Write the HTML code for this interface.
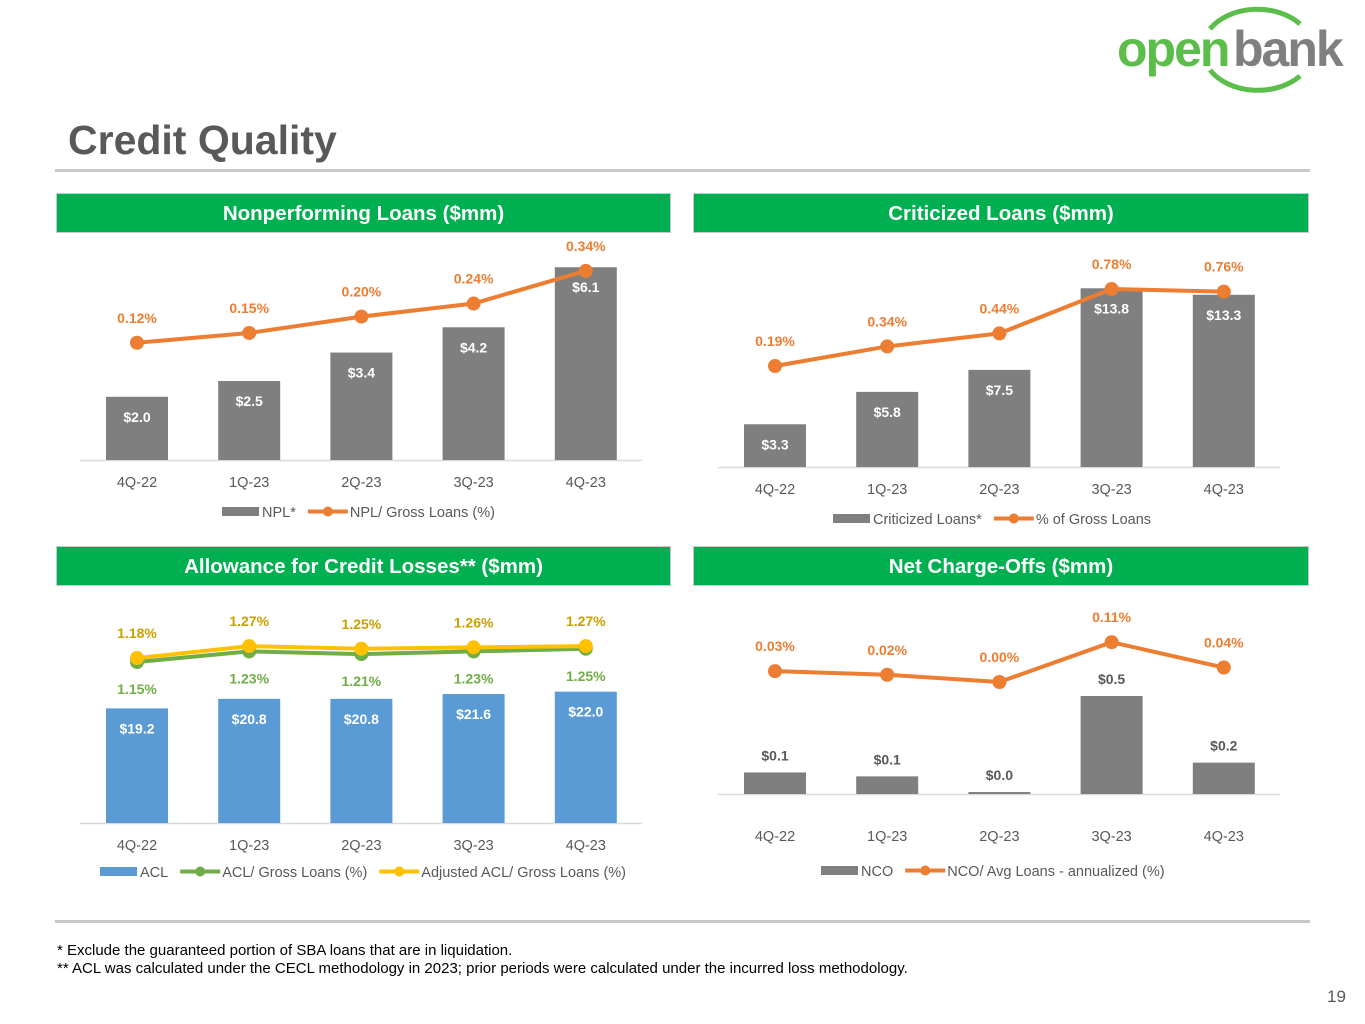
<!DOCTYPE html>
<html><head><meta charset="utf-8"><style>
body{margin:0;width:1365px;height:1024px;background:#fff;font-family:"Liberation Sans",sans-serif;position:relative;overflow:hidden}
.hdr{position:absolute;height:40px;background:#00b050;border:1px solid #c9c9c9;color:#fff;font-weight:bold;font-size:20.5px;text-align:center;line-height:40px;box-sizing:border-box}
svg text{font-family:"Liberation Sans",sans-serif}
</style></head><body>
<div style="position:absolute;left:1115px;top:2px;width:250px;height:96px">
<svg width="250" height="96"><path d="M95 27 A55 40 0 0 1 185 22" stroke="#5bbd4a" stroke-width="5" fill="none"/><path d="M95 68 A55 40 0 0 0 185 74" stroke="#5bbd4a" stroke-width="5" fill="none"/>
<text x="2" y="64" font-size="50" font-weight="bold" fill="#5bbd4a" letter-spacing="-2">open</text><text x="118" y="64" font-size="50" font-weight="bold" fill="#7f7f7f" letter-spacing="-2">bank</text></svg></div>
<div style="position:absolute;left:68px;top:117px;font-size:41px;font-weight:bold;color:#595959">Credit Quality</div>
<div style="position:absolute;left:55px;top:169px;width:1255px;height:3px;background:#c8c8c8"></div>
<div class="hdr" style="left:56px;top:193px;width:615px">Nonperforming Loans ($mm)</div>
<div class="hdr" style="left:693px;top:193px;width:616px">Criticized Loans ($mm)</div>
<div class="hdr" style="left:56px;top:546px;width:615px">Allowance for Credit Losses** ($mm)</div>
<div class="hdr" style="left:693px;top:546px;width:616px">Net Charge-Offs ($mm)</div>
<svg id="charts" width="1365" height="1024" style="position:absolute;left:0;top:0"></svg>
<div style="position:absolute;left:55px;top:920px;width:1255px;height:3px;background:#c8c8c8"></div>
<div style="position:absolute;left:57px;top:942px;font-size:15px;color:#000;line-height:18px">* Exclude the guaranteed portion of SBA loans that are in liquidation.<br>** ACL was calculated under the CECL methodology in 2023; prior periods were calculated under the incurred loss methodology.</div>
<div style="position:absolute;left:1327px;top:987px;font-size:17px;color:#595959">19</div>
<script>
const categories=["4Q-22","1Q-23","2Q-23","3Q-23","4Q-23"];
const nplValues=[2.0,2.5,3.4,4.2,6.1];
const nplPct=[0.12,0.15,0.20,0.24,0.34];
const critValues=[3.3,5.8,7.5,13.8,13.3];
const critPct=[0.19,0.34,0.44,0.78,0.76];
const aclValues=[19.2,20.8,20.8,21.6,22.0];
const aclPct=[1.15,1.23,1.21,1.23,1.25];
const adjAclPct=[1.18,1.27,1.25,1.26,1.27];
const ncoValues=[0.11,0.09,0.01,0.5,0.16];
const ncoPct=[0.03,0.02,0.00,0.11,0.04];

const NS="http://www.w3.org/2000/svg";
const svg=document.getElementById('charts');
function mk(tag,a,txt){const e=document.createElementNS(NS,tag);for(const k in a)e.setAttribute(k,a[k]);if(txt!==undefined)e.textContent=txt;svg.appendChild(e);return e;}
function chart(o){
  const xs=i=>o.x0+i*112.2;
  const by=v=>o.base-v*o.bk;
  const ly=v=>o.l0-v*o.lk;
  const tickOff=o.tickOff||27;
  mk('line',{x1:o.x0-57,x2:o.x0+505,y1:o.base+0.5,y2:o.base+0.5,stroke:'#d9d9d9','stroke-width':1.5});
  o.bars.forEach((v,i)=>{
    const r=mk('rect',{x:xs(i)-31,y:by(v),width:62,height:v*o.bk,fill:o.barColor});
    
    
    const t=mk('text',{x:xs(i),y:o.labelOut?by(v)-12:by(v)+25,'text-anchor':'middle','font-size':14,'font-weight':'bold',fill:o.labelOut?'#595959':'#fff'},'$'+v.toFixed(1));
    
    
    const c=mk('text',{x:xs(i),y:o.base+tickOff,'text-anchor':'middle','font-size':14.5,fill:'#595959'},categories[i]);
    
    
  });
  o.lines.forEach(L=>{
    const pts=L.vals.map((v,i)=>xs(i)+','+ly(v)).join(' ');
    const p=mk('polyline',{points:pts,fill:'none',stroke:L.color,'stroke-width':4,'stroke-linejoin':'round'});
    
    
    L.vals.forEach((v,i)=>{
      const d=mk('circle',{cx:xs(i),cy:ly(v),r:7,fill:L.color});
      
      
      const t=mk('text',{x:xs(i),y:ly(v)+L.dy,'text-anchor':'middle','font-size':14,'font-weight':'bold',fill:L.textColor},v.toFixed(2)+'%');
      
      
    });
  });
  let lx=o.legX;
  o.legend.forEach(g=>{
    if(g.type==='bar'){mk('rect',{x:lx,y:o.legY-9,width:37,height:9,fill:g.color});lx+=40;}
    else{mk('line',{x1:lx,x2:lx+40,y1:o.legY-4.5,y2:o.legY-4.5,stroke:g.color,'stroke-width':4});mk('circle',{cx:lx+20,cy:o.legY-4.5,r:5,fill:g.color});lx+=42;}
    const t=mk('text',{x:lx,y:o.legY+1,'font-size':14.5,fill:'#595959'},g.label);
    
    
    lx+=t.getComputedTextLength()+12;
  });
}
chart({id:'npl',x0:137,base:460,bk:31.6,l0:382,lk:327,bars:nplValues,barColor:'#7f7f7f',
  lines:[{id:'npl-pct',vals:nplPct,color:'#ed7d31',textColor:'#ed7d31',dy:-20}],
  legX:222,legY:516,legend:[{type:'bar',color:'#7f7f7f',label:'NPL*'},{type:'line',color:'#ed7d31',label:'NPL/ Gross Loans (%)'}]});
chart({id:'crit',x0:775,base:467,bk:12.95,l0:390.8,lk:130.5,bars:critValues,barColor:'#7f7f7f',
  lines:[{id:'crit-pct',vals:critPct,color:'#ed7d31',textColor:'#ed7d31',dy:-20}],
  legX:833,legY:523,legend:[{type:'bar',color:'#7f7f7f',label:'Criticized Loans*'},{type:'line',color:'#ed7d31',label:'% of Gross Loans'}]});
chart({id:'acl',x0:137,base:823,bk:5.97,l0:815,lk:133,bars:aclValues,barColor:'#5b9bd5',
  lines:[{id:'acl-pct',vals:aclPct,color:'#70ad47',textColor:'#70ad47',dy:32},{id:'adj-acl-pct',vals:adjAclPct,color:'#ffc000',textColor:'#c9a000',dy:-20}],
  legX:100,legY:876,legend:[{type:'bar',color:'#5b9bd5',label:'ACL'},{type:'line',color:'#70ad47',label:'ACL/ Gross Loans (%)'},{type:'line',color:'#ffc000',label:'Adjusted ACL/ Gross Loans (%)'}]});
chart({id:'nco',x0:775,base:794,bk:196,l0:682,lk:362,bars:ncoValues,barColor:'#7f7f7f',labelOut:true,tickOff:47,
  lines:[{id:'nco-pct',vals:ncoPct,color:'#ed7d31',textColor:'#ed7d31',dy:-20}],
  legX:821,legY:875,legend:[{type:'bar',color:'#7f7f7f',label:'NCO'},{type:'line',color:'#ed7d31',label:'NCO/ Avg Loans - annualized (%)'}]});
</script>
</body></html>
